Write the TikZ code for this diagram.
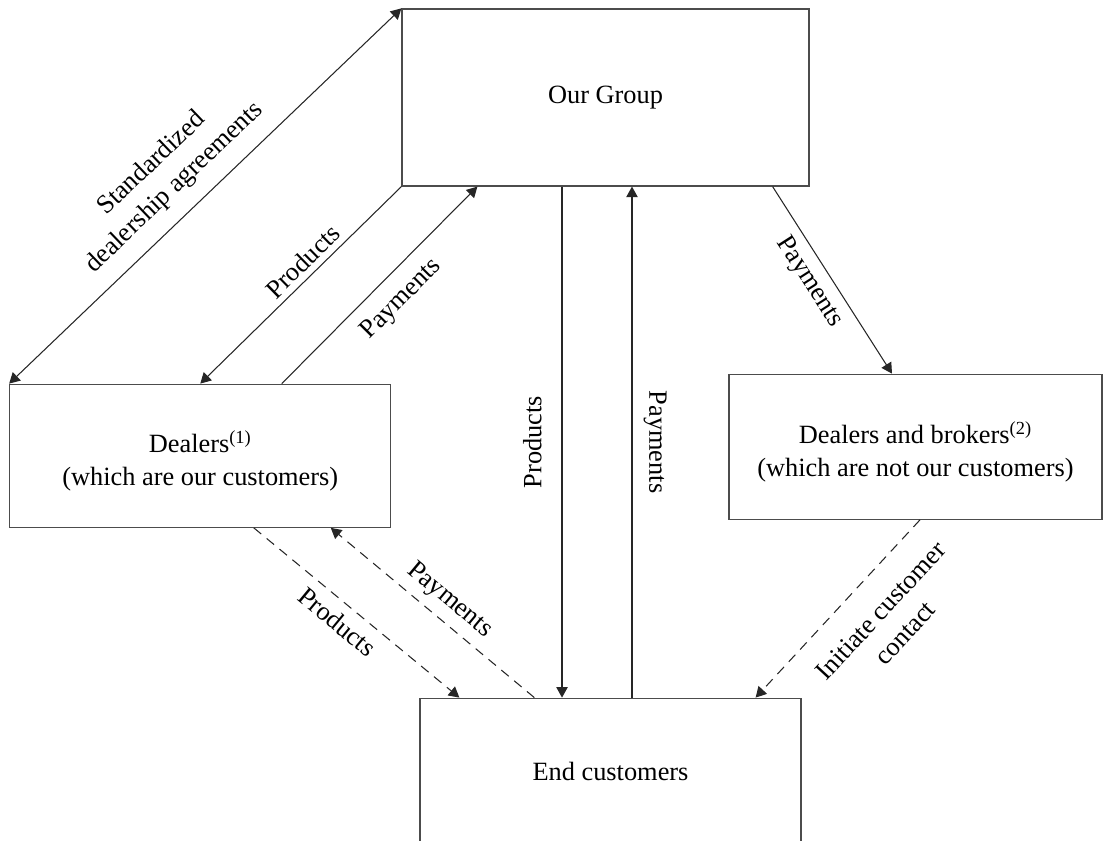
\documentclass[tikz,border=0pt]{standalone}
\usepackage{fontspec}
\setmainfont{Liberation Serif}
\usetikzlibrary{positioning}
\usetikzlibrary{arrows.meta}

\tikzset{
  box/.style={draw=black!70,line width=0.7pt,inner sep=0pt,align=center},
  flow/.style={->,draw=black!85,line width=0.6pt},
  dflow/.style={flow,dash pattern=on 5.5pt off 4pt},
}

\begin{document}
\begin{tikzpicture}[>={Triangle[length=6pt,width=6.5pt]},
    every node/.style={font=\fontsize{15}{18.7}\selectfont}]
        \useasboundingbox (0,0) rectangle (22.06,16.8);
        \node [box,minimum width=8.14cm,minimum height=3.54cm] (group) at (12.11,14.85) {Our Group};
        \node [box,minimum width=7.62cm,minimum height=2.86cm,below left=3.94cm and 0.2cm of group] (dealers) {\mbox{}\\Dealers\textsuperscript{(1)}\\(which are our customers)};
        \node [box,minimum width=7.46cm,minimum height=2.9cm,right=6.74cm of dealers,yshift=0.18cm] (brokers) {\mbox{}\\Dealers and brokers\textsuperscript{(2)}\\(which are not our customers)};
        \node [box,minimum width=7.62cm,minimum height=2.92cm,below=10.22cm of group,xshift=0.1cm] (endc) {End customers};
        \coordinate (prodtop) at ([xshift=-0.87cm]group.south);
        \coordinate (paytop) at ([xshift=0.53cm]group.south);
        \draw[flow,<->] (group.north west) -- node [sloped,pos=0.53,above=5pt,align=center] {Standardized\\dealership agreements} (dealers.north west);
        \draw[flow] (group.south west) -- node [sloped,pos=0.436,above] {Products} (dealers.north);
        \draw[flow] ([xshift=1.63cm]dealers.north) -- node [sloped,pos=0.52,below=4.5pt] {Payments} ([xshift=1.52cm]group.south west);
        \draw[flow] (prodtop) -- node [midway,xshift=-8pt,rotate=90,anchor=south] {Products} (prodtop |- endc.north);
        \draw[flow] (paytop |- endc.north) -- node [midway,xshift=3pt,rotate=-90,anchor=south] {Payments} (paytop);
        \draw[flow] ([xshift=-0.74cm]group.south east) -- node [sloped,pos=0.452,below=1.5pt] {Payments} ([xshift=-0.47cm]brokers.north);
        \draw[dflow] ([xshift=1.07cm]dealers.south) -- node [sloped,pos=0.466,below=2pt] {Products} ([xshift=0.8cm]endc.north west);
        \draw[dflow] ([xshift=2.3cm]endc.north west) -- node [sloped,pos=0.48,above=1.5pt] {Payments} ([xshift=2.61cm]dealers.south);
        \draw[dflow] ([xshift=0.09cm]brokers.south) -- node [sloped,pos=0.386,below=10pt,align=center] {Initiate customer\\contact} ([xshift=-0.92cm]endc.north east);
    \end{tikzpicture}
\end{document}
